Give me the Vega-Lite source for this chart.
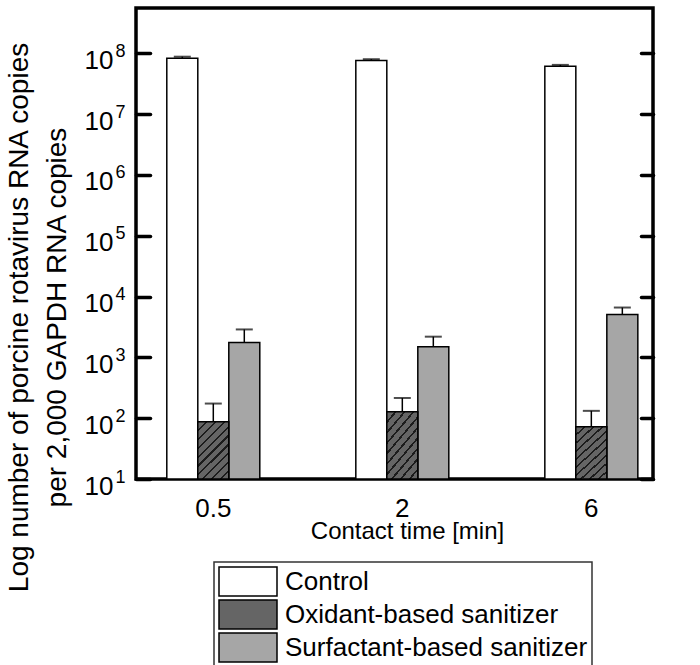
{
  "$schema": "https://vega.github.io/schema/vega-lite/v6.json",
  "width": 517,
  "height": 471,
  "autosize": {"type": "none"},
  "padding": {"left": 136, "top": 8, "right": 47, "bottom": 186},
  "background": "white",
  "config": {"font": "Liberation Sans", "view": {"stroke": "black", "strokeWidth": 3.5}},
  "data": {"values": [
    {"time": "0.5", "group": "Control", "value": 83000000, "hi": 88000000},
    {"time": "0.5", "group": "Oxidant-based sanitizer", "value": 87, "hi": 174},
    {"time": "0.5", "group": "Surfactant-based sanitizer", "value": 1760, "hi": 2880},
    {"time": "2", "group": "Control", "value": 76000000, "hi": 80000000},
    {"time": "2", "group": "Oxidant-based sanitizer", "value": 127, "hi": 215},
    {"time": "2", "group": "Surfactant-based sanitizer", "value": 1500, "hi": 2190},
    {"time": "6", "group": "Control", "value": 61000000, "hi": 64500000},
    {"time": "6", "group": "Oxidant-based sanitizer", "value": 72, "hi": 132},
    {"time": "6", "group": "Surfactant-based sanitizer", "value": 5070, "hi": 6600}
  ]},
  "layer": [
    {
      "mark": {"type": "bar", "stroke": "black", "strokeWidth": 1.5},
      "encoding": {
        "x": {"field": "time", "type": "nominal", "sort": ["0.5", "2", "6"],
          "scale": {"paddingInner": 0.508, "paddingOuter": 0.1216, "align": 0.67},
          "axis": {"title": "Contact time [min]", "titleFontSize": 24, "titleFontWeight": "normal", "titleColor": "black",
            "titleX": 271, "titleY": 59, "titleBaseline": "alphabetic",
            "labelAngle": 0, "labelFontSize": 26, "labelColor": "black", "labelBaseline": "alphabetic", "labelPadding": 37,
            "ticks": false, "domain": false, "grid": false}},
        "xOffset": {"field": "group", "type": "nominal", "sort": ["Control", "Oxidant-based sanitizer", "Surfactant-based sanitizer"]},
        "y": {"field": "value", "type": "quantitative",
          "scale": {"type": "log", "domain": [10, 556000000], "nice": false},
          "axis": {"orient": "left",
            "title": ["Log number of porcine rotavirus RNA copies", "per 2,000 GAPDH RNA copies"],
            "titleFontSize": 28, "titleFontWeight": "normal", "titleColor": "black",
            "titleX": -109, "titleY": 309, "titleAngle": -90, "titleBaseline": "alphabetic", "titleAlign": "center", "titleLineHeight": 38,
            "values": [10, 100, 1000, 10000, 100000, 1000000, 10000000, 100000000],
            "labelExpr": "'10'",
            "labelFontSize": 26, "labelColor": "black", "labelPadding": 37, "labelOffset": 7,
            "tickSize": -14, "tickWidth": 3.5, "tickColor": "black", "tickCap": "round",
            "domain": false, "grid": false}},
        "y2": {"datum": 10},
        "fill": {"field": "group", "type": "nominal",
          "scale": {"domain": ["Control", "Oxidant-based sanitizer", "Surfactant-based sanitizer"], "range": ["#ffffff", "#656565", "#a6a6a6"]},
          "legend": {"title": null, "orient": "none", "legendX": 78, "legendY": 554, "direction": "vertical",
            "symbolType": "M-1,-1H3V1H-1Z", "symbolSize": 841, "symbolStrokeColor": "black", "symbolStrokeWidth": 1.5, "symbolOpacity": 1,
            "labelFontSize": 26, "labelColor": "black", "labelOffset": 36, "labelLimit": 0,
            "padding": 4, "strokeColor": "#333333", "rowPadding": -2.5,
            "encode": {
              "legend": {"update": {"strokeWidth": {"value": 1.5}}},
              "symbols": {"update": {
                "stroke": {"value": "black"},
                "strokeWidth": {"value": 1.5},
                "fill": {"signal": "datum.value === 'Oxidant-based sanitizer' ? {gradient: 'linear', x1: 0, y1: 0, x2: 1.2, y2: 0.6, stops: [{offset: 0, color: '#656565'}, {offset: 0.0875, color: '#656565'}, {offset: 0.0875, color: '#1c1c1c'}, {offset: 0.1125, color: '#1c1c1c'}, {offset: 0.1125, color: '#656565'}, {offset: 0.1875, color: '#656565'}, {offset: 0.1875, color: '#1c1c1c'}, {offset: 0.2125, color: '#1c1c1c'}, {offset: 0.2125, color: '#656565'}, {offset: 0.2875, color: '#656565'}, {offset: 0.2875, color: '#1c1c1c'}, {offset: 0.3125, color: '#1c1c1c'}, {offset: 0.3125, color: '#656565'}, {offset: 0.3875, color: '#656565'}, {offset: 0.3875, color: '#1c1c1c'}, {offset: 0.4125, color: '#1c1c1c'}, {offset: 0.4125, color: '#656565'}, {offset: 0.4875, color: '#656565'}, {offset: 0.4875, color: '#1c1c1c'}, {offset: 0.5125, color: '#1c1c1c'}, {offset: 0.5125, color: '#656565'}, {offset: 0.5875, color: '#656565'}, {offset: 0.5875, color: '#1c1c1c'}, {offset: 0.6125, color: '#1c1c1c'}, {offset: 0.6125, color: '#656565'}, {offset: 0.6875, color: '#656565'}, {offset: 0.6875, color: '#1c1c1c'}, {offset: 0.7125, color: '#1c1c1c'}, {offset: 0.7125, color: '#656565'}, {offset: 0.7875, color: '#656565'}, {offset: 0.7875, color: '#1c1c1c'}, {offset: 0.8125, color: '#1c1c1c'}, {offset: 0.8125, color: '#656565'}, {offset: 0.8875, color: '#656565'}, {offset: 0.8875, color: '#1c1c1c'}, {offset: 0.9125, color: '#1c1c1c'}, {offset: 0.9125, color: '#656565'}, {offset: 1, color: '#656565'}]} : scale('fill', datum.value)"}
              }}
            }}
        }
      }
    },
    {
      "transform": [{"filter": "datum.group === 'Oxidant-based sanitizer'"}],
      "mark": {"type": "bar", "stroke": "black", "strokeWidth": 1.5,
        "fill": {"gradient": "linear", "x1": 0, "y1": 0, "x2": 0.65, "y2": 1.2, "stops": [
          {"offset": 0, "color": "#656565"},
          {"offset": 0.0875, "color": "#656565"}, {"offset": 0.0875, "color": "#1c1c1c"}, {"offset": 0.1125, "color": "#1c1c1c"}, {"offset": 0.1125, "color": "#656565"},
          {"offset": 0.1875, "color": "#656565"}, {"offset": 0.1875, "color": "#1c1c1c"}, {"offset": 0.2125, "color": "#1c1c1c"}, {"offset": 0.2125, "color": "#656565"},
          {"offset": 0.2875, "color": "#656565"}, {"offset": 0.2875, "color": "#1c1c1c"}, {"offset": 0.3125, "color": "#1c1c1c"}, {"offset": 0.3125, "color": "#656565"},
          {"offset": 0.3875, "color": "#656565"}, {"offset": 0.3875, "color": "#1c1c1c"}, {"offset": 0.4125, "color": "#1c1c1c"}, {"offset": 0.4125, "color": "#656565"},
          {"offset": 0.4875, "color": "#656565"}, {"offset": 0.4875, "color": "#1c1c1c"}, {"offset": 0.5125, "color": "#1c1c1c"}, {"offset": 0.5125, "color": "#656565"},
          {"offset": 0.5875, "color": "#656565"}, {"offset": 0.5875, "color": "#1c1c1c"}, {"offset": 0.6125, "color": "#1c1c1c"}, {"offset": 0.6125, "color": "#656565"},
          {"offset": 0.6875, "color": "#656565"}, {"offset": 0.6875, "color": "#1c1c1c"}, {"offset": 0.7125, "color": "#1c1c1c"}, {"offset": 0.7125, "color": "#656565"},
          {"offset": 0.7875, "color": "#656565"}, {"offset": 0.7875, "color": "#1c1c1c"}, {"offset": 0.8125, "color": "#1c1c1c"}, {"offset": 0.8125, "color": "#656565"},
          {"offset": 0.8875, "color": "#656565"}, {"offset": 0.8875, "color": "#1c1c1c"}, {"offset": 0.9125, "color": "#1c1c1c"}, {"offset": 0.9125, "color": "#656565"},
          {"offset": 1, "color": "#656565"}
        ]}},
      "encoding": {
        "x": {"field": "time", "type": "nominal", "sort": ["0.5", "2", "6"]},
        "xOffset": {"field": "group", "type": "nominal", "sort": ["Control", "Oxidant-based sanitizer", "Surfactant-based sanitizer"]},
        "y": {"field": "value", "type": "quantitative", "axis": null},
        "y2": {"datum": 10}
      }
    },
    {
      "mark": {"type": "rule", "color": "black", "strokeWidth": 1.5},
      "encoding": {
        "x": {"field": "time", "type": "nominal", "sort": ["0.5", "2", "6"]},
        "xOffset": {"field": "group", "type": "nominal", "sort": ["Control", "Oxidant-based sanitizer", "Surfactant-based sanitizer"]},
        "y": {"field": "value", "type": "quantitative",
          "axis": {"orient": "right", "title": null, "labels": false,
            "values": [10, 100, 1000, 10000, 100000, 1000000, 10000000, 100000000],
            "tickSize": -12, "tickWidth": 3.5, "tickColor": "black", "tickCap": "round",
            "domain": false, "grid": false}},
        "y2": {"field": "hi"}
      }
    },
    {
      "mark": {"type": "tick", "color": "black", "thickness": 2, "size": 17},
      "encoding": {
        "x": {"field": "time", "type": "nominal", "sort": ["0.5", "2", "6"]},
        "xOffset": {"field": "group", "type": "nominal", "sort": ["Control", "Oxidant-based sanitizer", "Surfactant-based sanitizer"]},
        "y": {"field": "hi", "type": "quantitative",
          "axis": {"orient": "left", "title": null,
            "values": [10, 100, 1000, 10000, 100000, 1000000, 10000000, 100000000],
            "labelExpr": "'' + round(log(datum.value)/LN10)",
            "labelFontSize": 18, "labelColor": "black", "labelPadding": 11, "labelOffset": -2,
            "ticks": false, "tickSize": 0, "domain": false, "grid": false}}
      }
    }
  ],
  "resolve": {"axis": {"y": "independent"}}
}
